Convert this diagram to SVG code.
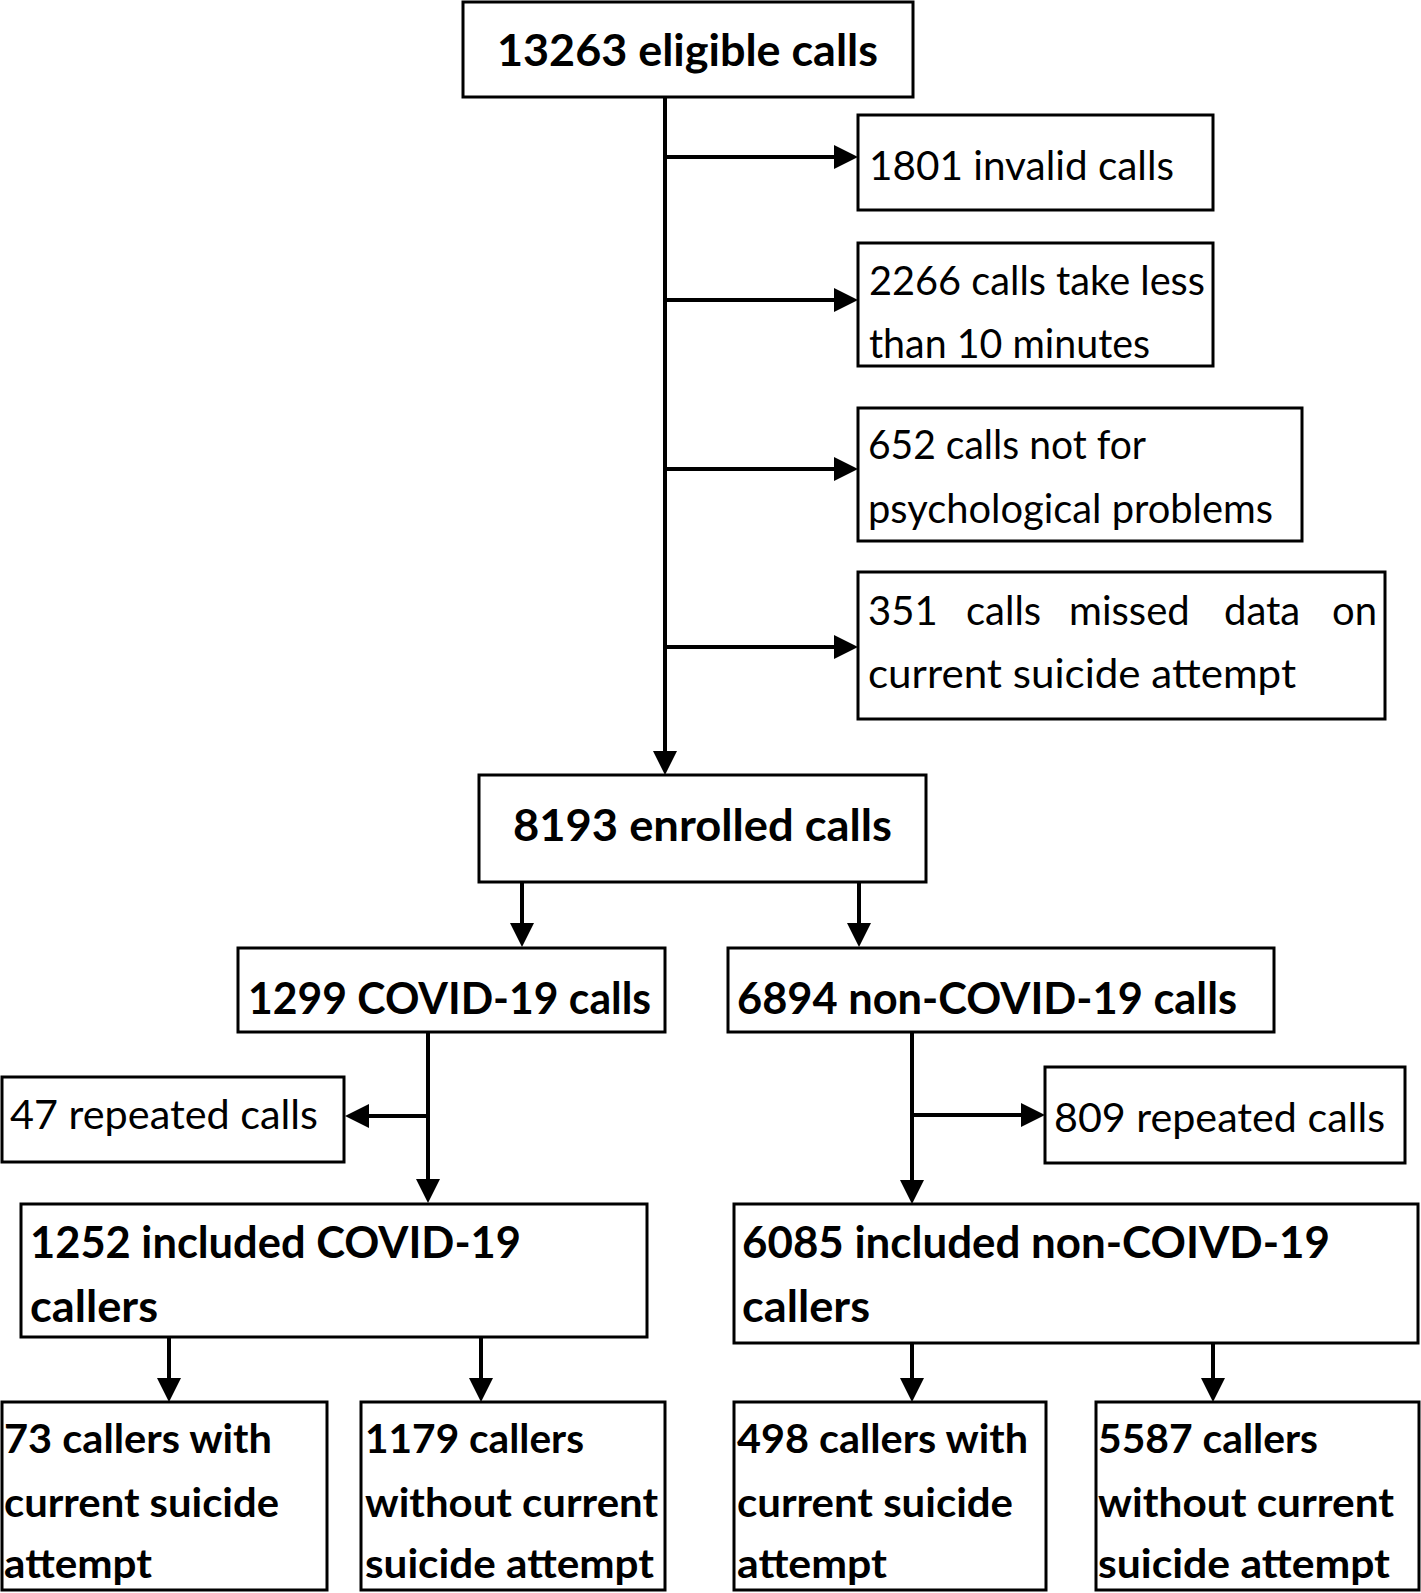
<svg xmlns="http://www.w3.org/2000/svg" width="1421" height="1593" viewBox="0 0 1421 1593">
<style>
.box{fill:#fff;stroke:#000;stroke-width:3}
.t{font-family:Lato,"Liberation Sans",sans-serif;font-size:40px;fill:#000}
.b{font-weight:bold;font-size:44px}
.bs{font-weight:bold;font-size:40px}
.c{stroke:#000;stroke-width:4;fill:none;marker-end:url(#ah)}
</style>
<defs>
<marker id="ah" markerUnits="userSpaceOnUse" markerWidth="24" markerHeight="24" refX="16" refY="12" orient="auto">
<path d="M0,0 L24,12 L0,24 z" fill="#000"/>
</marker>
</defs>
<rect width="1421" height="1593" fill="#fff"/>

<g id="connectors">
<path class="c" d="M665,97 V767"/>
<path class="c" d="M665,157 H850"/>
<path class="c" d="M665,300 H850"/>
<path class="c" d="M665,469 H850"/>
<path class="c" d="M665,647 H850"/>
<path class="c" d="M522,882 V939"/>
<path class="c" d="M859,882 V939"/>
<path class="c" d="M428,1032 V1195"/>
<path class="c" d="M428,1116 H353"/>
<path class="c" d="M912,1032 V1196"/>
<path class="c" d="M912,1115 H1037"/>
<path class="c" d="M169,1337 V1394"/>
<path class="c" d="M481,1337 V1394"/>
<path class="c" d="M912,1343 V1394"/>
<path class="c" d="M1213,1343 V1394"/>
</g>

<g id="n13263">
<rect class="box" x="463" y="2" width="450" height="95"/>
<text class="t b" x="497" y="66" textLength="381" lengthAdjust="spacingAndGlyphs">13263 eligible calls</text>
</g>
<g id="n1801">
<rect class="box" x="858" y="115" width="355" height="95"/>
<text class="t" x="869" y="180" textLength="305" lengthAdjust="spacingAndGlyphs">1801 invalid calls</text>
</g>
<g id="n2266">
<rect class="box" x="858" y="243" width="355" height="123"/>
<text class="t" x="869" y="295" textLength="336" lengthAdjust="spacingAndGlyphs">2266 calls take less</text>
<text class="t" x="869" y="358" textLength="281" lengthAdjust="spacingAndGlyphs">than 10 minutes</text>
</g>
<g id="n652">
<rect class="box" x="858" y="408" width="444" height="133"/>
<text class="t" x="868" y="459" textLength="278" lengthAdjust="spacingAndGlyphs">652 calls not for</text>
<text class="t" x="868" y="523" textLength="405" lengthAdjust="spacingAndGlyphs">psychological problems</text>
</g>
<g id="n351">
<rect class="box" x="858" y="572" width="527" height="147"/>
<text class="t" y="625"><tspan x="868">351</tspan><tspan x="966">calls</tspan><tspan x="1069">missed</tspan><tspan x="1224">data</tspan><tspan x="1332">on</tspan></text>
<text class="t" x="868" y="688" textLength="428" lengthAdjust="spacingAndGlyphs">current suicide attempt</text>
</g>
<g id="n8193">
<rect class="box" x="479" y="775" width="447" height="107"/>
<text class="t b" x="513" y="841" textLength="379" lengthAdjust="spacingAndGlyphs">8193 enrolled calls</text>
</g>
<g id="n1299">
<rect class="box" x="238" y="948" width="427" height="84"/>
<text class="t b" x="248" y="1014" textLength="403" lengthAdjust="spacingAndGlyphs">1299 COVID-19 calls</text>
</g>
<g id="n6894">
<rect class="box" x="728" y="948" width="546" height="84"/>
<text class="t b" x="737" y="1014" textLength="500" lengthAdjust="spacingAndGlyphs">6894 non-COVID-19 calls</text>
</g>
<g id="n47">
<rect class="box" x="2" y="1077" width="342" height="85"/>
<text class="t" x="10" y="1129" textLength="308" lengthAdjust="spacingAndGlyphs">47 repeated calls</text>
</g>
<g id="n809">
<rect class="box" x="1045" y="1067" width="360" height="96"/>
<text class="t" x="1054" y="1132" textLength="331" lengthAdjust="spacingAndGlyphs">809 repeated calls</text>
</g>
<g id="n1252">
<rect class="box" x="21" y="1204" width="626" height="133"/>
<text class="t b" x="30" y="1258" textLength="491" lengthAdjust="spacingAndGlyphs">1252 included COVID-19</text>
<text class="t b" x="30" y="1322" textLength="128" lengthAdjust="spacingAndGlyphs">callers</text>
</g>
<g id="n6085">
<rect class="box" x="734" y="1204" width="684" height="139"/>
<text class="t b" x="742" y="1258" textLength="588" lengthAdjust="spacingAndGlyphs">6085 included non-COIVD-19</text>
<text class="t b" x="742" y="1322" textLength="128" lengthAdjust="spacingAndGlyphs">callers</text>
</g>
<g id="n73">
<rect class="box" x="2" y="1402" width="325" height="188"/>
<text class="t bs" x="4" y="1453" textLength="268" lengthAdjust="spacingAndGlyphs">73 callers with</text>
<text class="t bs" x="4" y="1517" textLength="275" lengthAdjust="spacingAndGlyphs">current suicide</text>
<text class="t bs" x="4" y="1578" textLength="148" lengthAdjust="spacingAndGlyphs">attempt</text>
</g>
<g id="n1179">
<rect class="box" x="361" y="1402" width="304" height="188"/>
<text class="t bs" x="365" y="1453" textLength="219" lengthAdjust="spacingAndGlyphs">1179 callers</text>
<text class="t bs" x="365" y="1517" textLength="293" lengthAdjust="spacingAndGlyphs">without current</text>
<text class="t bs" x="365" y="1578" textLength="289" lengthAdjust="spacingAndGlyphs">suicide attempt</text>
</g>
<g id="n498">
<rect class="box" x="734" y="1402" width="312" height="188"/>
<text class="t bs" x="737" y="1453" textLength="291" lengthAdjust="spacingAndGlyphs">498 callers with</text>
<text class="t bs" x="737" y="1517" textLength="276" lengthAdjust="spacingAndGlyphs">current suicide</text>
<text class="t bs" x="737" y="1578" textLength="150" lengthAdjust="spacingAndGlyphs">attempt</text>
</g>
<g id="n5587">
<rect class="box" x="1096" y="1402" width="323" height="188"/>
<text class="t bs" x="1098" y="1453" textLength="220" lengthAdjust="spacingAndGlyphs">5587 callers</text>
<text class="t bs" x="1098" y="1517" textLength="296" lengthAdjust="spacingAndGlyphs">without current</text>
<text class="t bs" x="1098" y="1578" textLength="292" lengthAdjust="spacingAndGlyphs">suicide attempt</text>
</g>
</svg>
